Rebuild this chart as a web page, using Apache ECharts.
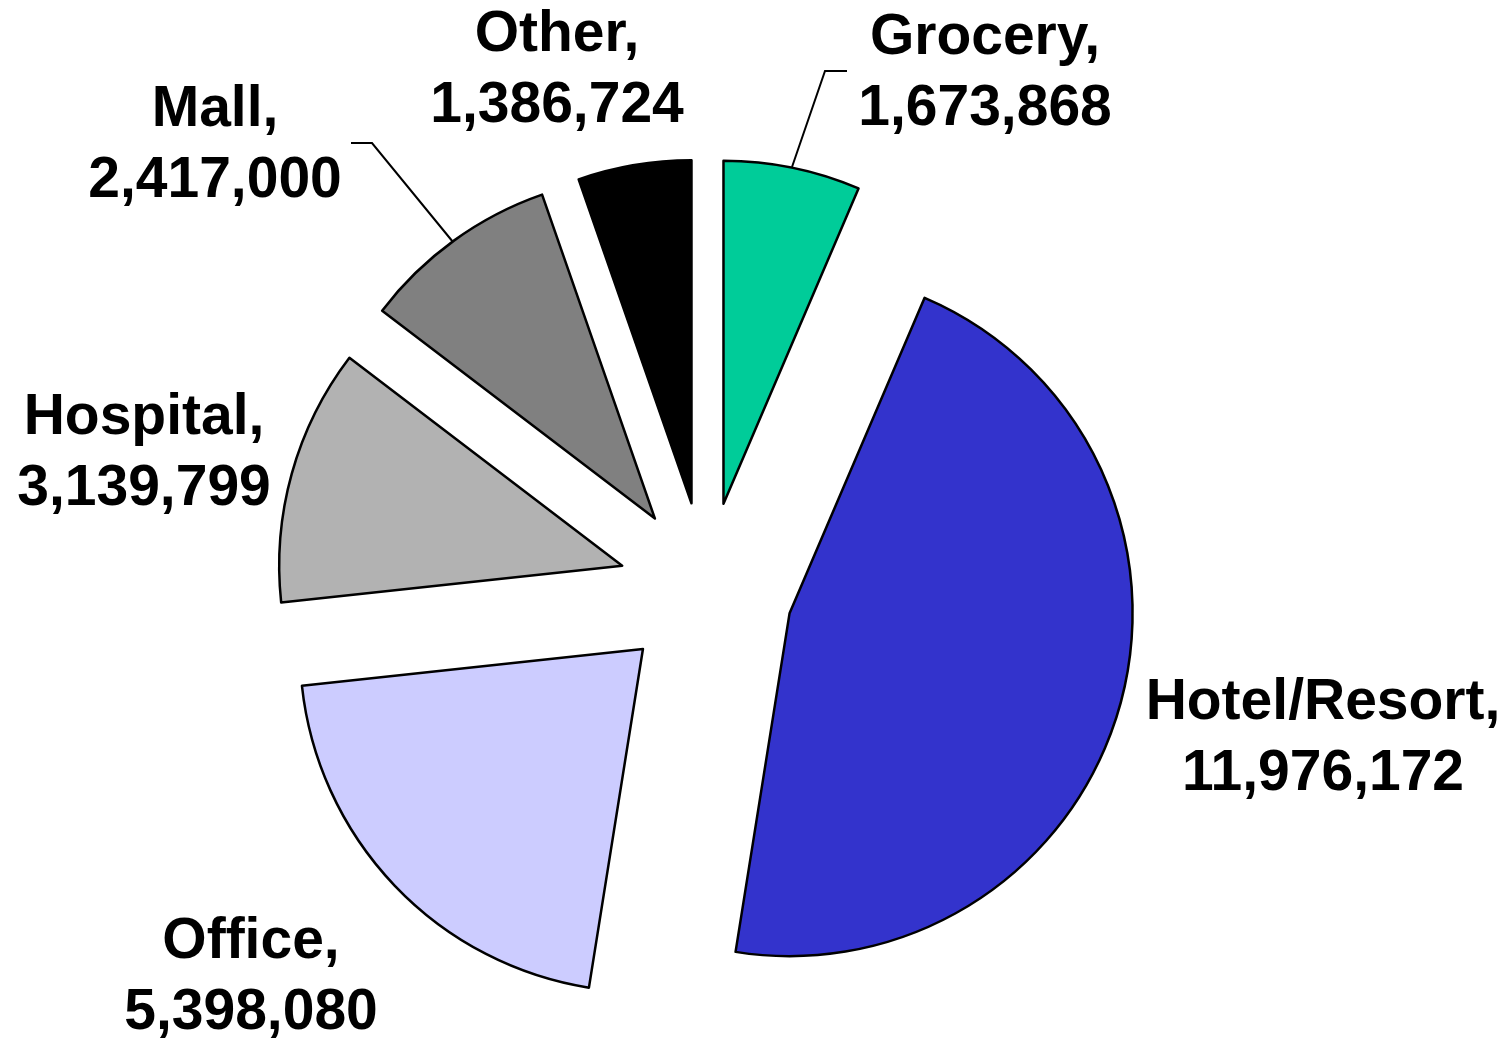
<!DOCTYPE html>
<html>
<head>
<meta charset="utf-8">
<script src="https://cdn.jsdelivr.net/npm/echarts@6/dist/echarts.min.js"></script>
<style>
  html, body { margin: 0; padding: 0; background: #fff; }
  #chart { width: 1507px; height: 1041px; }
</style>
</head>
<body>
<div id="chart"></div>
<script>
// slices, clockwise from 12 o'clock
const categories = ['Grocery', 'Hotel/Resort', 'Office', 'Hospital', 'Mall', 'Other']
const values = [1673868, 11976172, 5398080, 3139799, 2417000, 1386724]
const colors = ['#00CC99', '#3333CC', '#CCCCFF', '#B2B2B2', '#808080', '#000000']

// where each label block sits (centre of the two lines)
const labelPos = {
  'Grocery': [985, 74],
  'Hotel/Resort': [1323, 739],
  'Office': [251, 978],
  'Hospital': [144, 454],
  'Mall': [215, 146],
  'Other': [557, 71]
}
// leader lines (only two of them have one)
const leaderLines = {
  'Grocery': [[792, 167], [825, 71], [847, 71]],
  'Mall': [[453, 242], [372, 143], [351, 143]]
}

const pieCenter = [706, 589]
const pieRadius = 343
const explode = 87

const chart = echarts.init(document.getElementById('chart'))

// every slice is pulled out along its own bisector, so each one gets
// its own pie series (same data, only one slice visible)
const total = values.reduce((a, b) => a + b, 0)
let acc = 0
const series = categories.map((name, i) => {
  const mid = (acc + values[i] / 2) / total * Math.PI * 2
  acc += values[i]
  const data = categories.map((n, j) => {
    if (j === i) {
      return {
        name: n,
        value: values[j],
        itemStyle: { color: colors[j] },
        labelLine: { show: !!leaderLines[n] }
      }
    }
    return {
      name: n,
      value: values[j],
      itemStyle: { color: 'rgba(0,0,0,0)', borderWidth: 0 },
      label: { show: false },
      labelLine: { show: false }
    }
  })
  return {
    type: 'pie',
    center: [pieCenter[0] + explode * Math.sin(mid), pieCenter[1] - explode * Math.cos(mid)],
    radius: [0, pieRadius],
    startAngle: 90,
    clockwise: true,
    avoidLabelOverlap: false,
    silent: true,
    data: data,
    itemStyle: {
      borderColor: '#000',
      borderWidth: 2.5
    },
    emphasis: { disabled: true },
    label: {
      show: true,
      position: 'outside',
      formatter: p => p.name + ',\n' + p.value.toLocaleString('en-US'),
      fontFamily: "'Liberation Sans', Arial, sans-serif",
      fontWeight: 'bold',
      fontSize: 57,
      lineHeight: 71,
      color: '#000',
      align: 'center'
    },
    labelLine: {
      lineStyle: { color: '#000', width: 2 }
    },
    labelLayout: function (params) {
      const n = categories[params.dataIndex]
      const pos = labelPos[n]
      const out = {
        x: pos[0],
        y: pos[1],
        align: 'center',
        verticalAlign: 'middle'
      }
      if (leaderLines[n]) {
        out.labelLinePoints = leaderLines[n]
      }
      return out
    }
  }
})

chart.setOption({
  animation: false,
  series: series
})
</script>
</body>
</html>
